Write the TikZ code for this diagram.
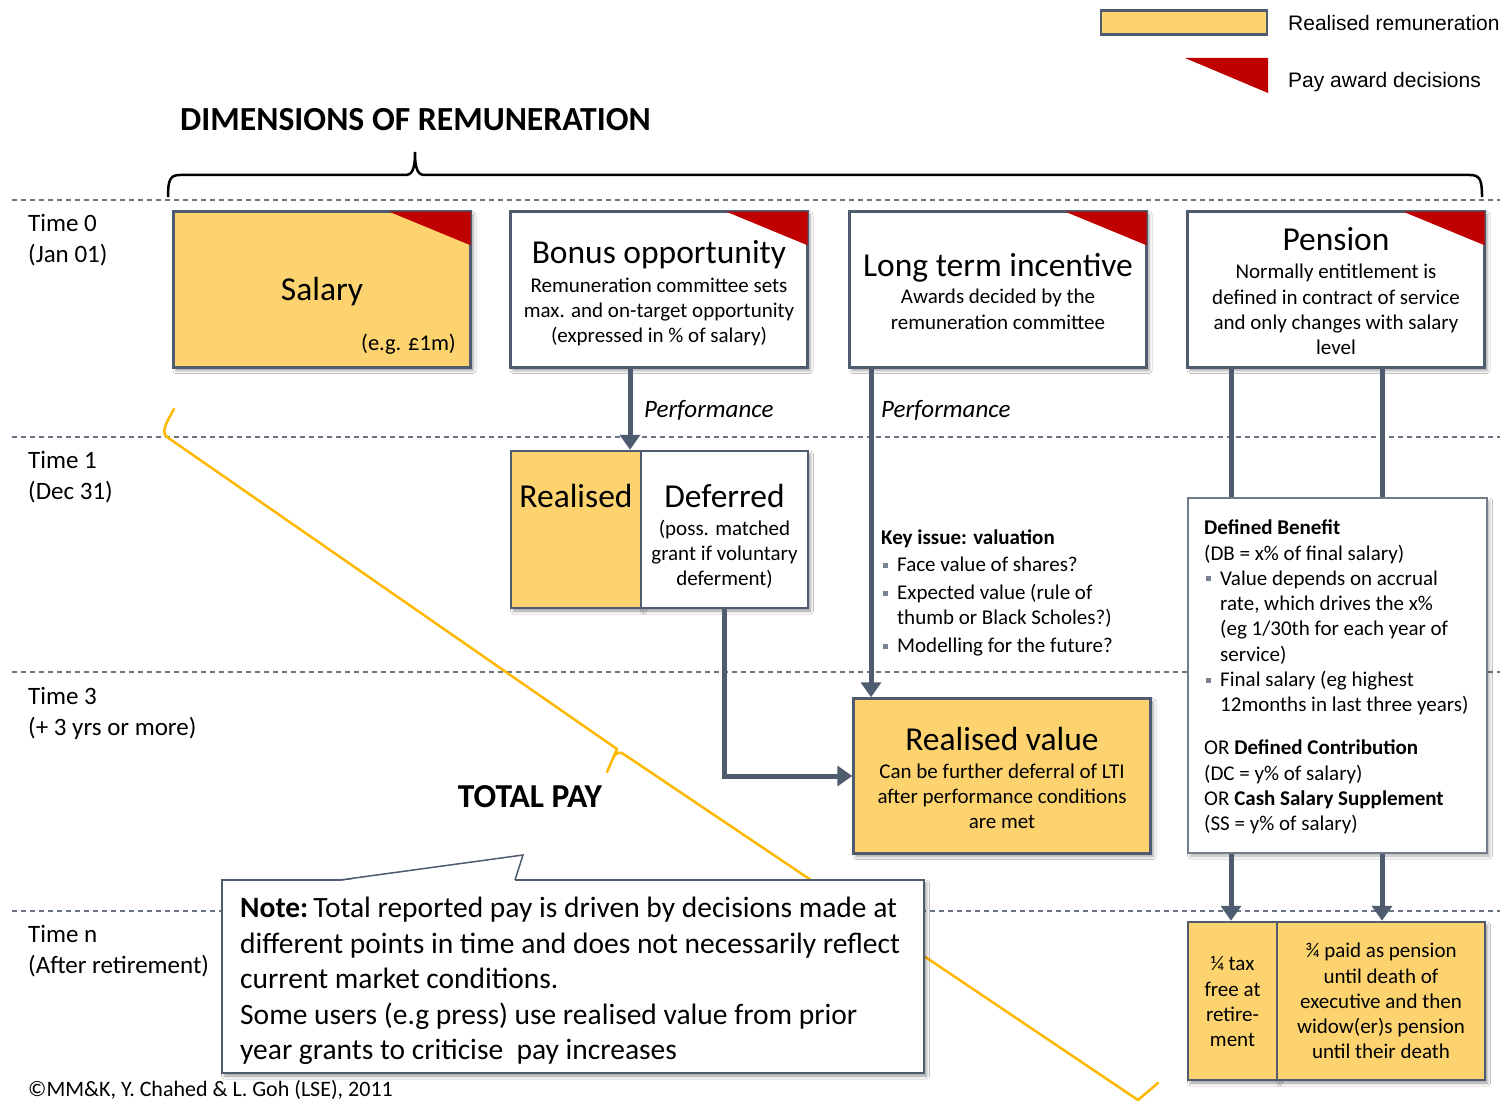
\documentclass[tikz,border=0pt]{standalone}
\usepackage{fontspec}
\setmainfont{Carlito}
\newfontfamily\arialf{Liberation Sans}
\usetikzlibrary{arrows.meta,shadows.blur,calc}
\definecolor{slate}{RGB}{79,91,110}
\definecolor{payyel}{RGB}{252,211,110}
\definecolor{payred}{RGB}{192,0,0}
\definecolor{braceor}{RGB}{255,184,0}
\definecolor{bulc}{RGB}{120,130,145}
\newcommand\bul{\makebox[16pt][l]{\hspace{2pt}\raisebox{4pt}{\color{bulc}\rule{5pt}{5pt}}}}
\newcommand\fs[2]{\fontsize{#1}{#2}\selectfont}
\tikzset{
  rbox/.style={draw=slate,line width=2.5pt,inner sep=0pt,
    blur shadow={shadow xshift=2.5pt,shadow yshift=-3pt,shadow blur radius=3pt,shadow opacity=40}},
  yel/.style={fill=payyel},
  wht/.style={fill=white},
  arr/.style={draw=slate,line width=5pt,-{Triangle[width=20pt,length=15pt]}},
  conn/.style={draw=slate,line width=5pt},
  tline/.style={draw=slate!85,line width=1.1pt,dash pattern=on 5pt off 4pt},
  txt/.style={inner sep=0pt,anchor=base},
  ltxt/.style={inner sep=0pt,anchor=base west,align=left},
  ctxt/.style={inner sep=0pt,anchor=base,align=center},
  bigt/.style={txt,font=\fs{33.5}{38}},
}
\begin{document}
\begin{tikzpicture}[x=1pt,y=-1pt]
\useasboundingbox (0,0) rectangle (1503,1102);
\fill[white] (0,0) rectangle (1503,1102);

% time lines
\coordinate (tl0a) at (12,200); \coordinate (tl0b) at (1500,200);
\coordinate (tl1a) at (12,437); \coordinate (tl1b) at (1500,437);
\coordinate (tl3a) at (12,672); \coordinate (tl3b) at (1500,672);
\coordinate (tlna) at (12,911); \coordinate (tlnb) at (1500,911);
\draw[tline] (tl0a) -- (tl0b);
\draw[tline] (tl1a) -- (tl1b);
\draw[tline] (tl3a) -- (tl3b);
\draw[tline] (tlna) -- (tlnb);

% time labels (anchor = baseline of last line)
\node[ltxt,font=\fs{25}{30.5}] (t0) at (28,262) {Time 0\\(Jan 01)};
\node[ltxt,font=\fs{25}{30.5}] (t1) at (28,499) {Time 1\\(Dec 31)};
\node[ltxt,font=\fs{25}{30.5}] (t3) at (28,735) {Time 3\\(+ 3 yrs or more)};
\node[ltxt,font=\fs{25}{30.5}] (tn) at (28,973) {Time n\\(After retirement)};

% legend
\node[draw=slate,line width=2.5pt,fill=payyel,minimum width=166pt,minimum height=24pt,inner sep=0pt] (legy) at (1184,22.5) {};
\fill[payred] (1185,58) -- (1268,58) -- (1268,93) -- cycle;
\node[ltxt,font=\arialf\fs{21}{24}] (legt1) at (1288,30.5) {Realised remuneration};
\node[ltxt,font=\arialf\fs{21}{24}] (legt2) at (1288,87.5) {Pay award decisions};

% title and brace
\node[ltxt,font=\bfseries\fs{33.7}{38}] (title) at (180,131) {DIMENSIONS OF REMUNERATION};
\draw[black,line width=2.5pt] (168,197) .. controls (168,180) and (170,175) .. (180,175) -- (405,175)
  .. controls (412,175) and (415,170) .. (415,152) .. controls (415,170) and (418,175) .. (425,175)
  -- (1470,175) .. controls (1480,175) and (1482,180) .. (1482,197);

% orange total-pay brace
\draw[braceor,line width=2.5pt,line cap=round,line join=round]
  (174,409) .. controls (168,420) and (160,432) .. (167,437) -- (617,749) -- (607,772)
  (613,758) .. controls (616,752) and (620,751) .. (625,755) -- (1138,1100) -- (1158,1083);

% Time 0 boxes
\node[rbox,yel,minimum width=297pt,minimum height=156pt] (sal) at (322,289.5) {};
\node[rbox,wht,minimum width=297pt,minimum height=156pt] (bon) at (659,289.5) {};
\node[rbox,wht,minimum width=297pt,minimum height=156pt] (lti) at (998,289.5) {};
\node[rbox,wht,minimum width=297pt,minimum height=156pt] (pen) at (1336,289.5) {};
\foreach \b in {sal,bon,lti,pen}{
  \fill[payred] ($(\b.north east)+(-83,1.25)$) -- ($(\b.north east)+(-1.25,1.25)$) -- ($(\b.north east)+(-1.25,35)$) -- cycle;
}
\node[bigt] (salt) at (322,300.5) {Salary};
\node[inner sep=0pt,anchor=base east,font=\fs{22.5}{26}] (salv) at (456,350.5) {(e.g. £1m)};

\node[bigt] (bont) at (659,263.7) {Bonus opportunity};
\node[ctxt,font=\fs{21}{25}] (bonb) at (659,342.7) {Remuneration committee sets\\max. and on-target opportunity\\(expressed in \% of salary)};

\node[bigt] (ltit) at (998,276.7) {Long term incentive};
\node[ctxt,font=\fs{21}{26}] (ltib) at (998,329.7) {Awards decided by the\\remuneration committee};

\node[bigt] (pent) at (1336,250.7) {Pension};
\node[ctxt,font=\fs{21}{25.3}] (penb) at (1336,354.7) {Normally entitlement is\\defined in contract of service\\and only changes with salary\\level};

% Time 1 bonus split
\node[rbox,yel,minimum width=130pt,minimum height=157pt] (rl) at (576,529.5) {};
\node[rbox,wht,minimum width=167pt,minimum height=157pt] (df) at (724.5,529.5) {};
\node[bigt] (rlt) at (576,507.7) {Realised};
\node[bigt] (dft) at (724.5,507.7) {Deferred};
\node[ctxt,font=\fs{21}{25}] (dfb) at (724.5,585.7) {(poss. matched\\grant if voluntary\\deferment)};

% key issue text
\node[ltxt,font=\fs{21}{25}] (key) at (881,652.7) {\textbf{Key issue: valuation}\\[2pt]\bul Face value of shares?\\[3pt]\bul Expected value (rule of\\\hspace*{16pt}thumb or Black Scholes?)\\[3pt]\bul Modelling for the future?};

% realised value
\node[rbox,yel,minimum width=297pt,minimum height=155pt] (rv) at (1002,776) {};
\node[bigt] (rvt) at (1002,750.7) {Realised value};
\node[ctxt,font=\fs{21}{25}] (rvb) at (1002,828.7) {Can be further deferral of LTI\\after performance conditions\\are met};

% pension DB box
\node[draw=slate!80,line width=1.2pt,fill=white,inner sep=0pt,minimum width=299pt,minimum height=355pt,
  blur shadow={shadow xshift=2.5pt,shadow yshift=-3pt,shadow blur radius=3pt,shadow opacity=30}] (db) at (1337.5,675.5) {};
\node[ltxt,font=\fs{21}{25.3}] (dbt) at (1204,830.7) {\textbf{Defined Benefit}\\(DB = x\% of final salary)\\\bul Value depends on accrual\\\hspace*{16pt}rate, which drives the x\%\\\hspace*{16pt}(eg 1/30th for each year of\\\hspace*{16pt}service)\\\bul Final salary (eg highest\\\hspace*{16pt}12months in last three years)\\[17.7pt]OR \textbf{Defined Contribution}\\(DC = y\% of salary)\\OR \textbf{Cash Salary Supplement}\\(SS = y\% of salary)};

% after retirement boxes
\node[rbox,yel,minimum width=89pt,minimum height=158pt] (tax) at (1232.5,1001) {};
\node[rbox,yel,minimum width=208pt,minimum height=158pt] (pp) at (1381,1001) {};
\node[ctxt,font=\fs{21}{25.3}] (taxt) at (1232.5,1046.7) {¼ tax\\free at\\retire-\\ment};
\node[ctxt,font=\fs{21}{25.2}] (ppt) at (1381,1058.7) {¾ paid as pension\\until death of\\executive and then\\widow(er)s pension\\until their death};

% connectors
\coordinate (xb) at (630,0);
\coordinate (xl) at (871,0);
\coordinate (xp1) at (1231,0);
\coordinate (xp2) at (1382,0);
\draw[arr] (bon.south -| xb) -- (rl.north -| xb);
\draw[arr] (lti.south -| xl) -- (rv.north -| xl);
\draw[conn] (pen.south -| xp1) -- (db.north -| xp1);
\draw[conn] (pen.south -| xp2) -- (db.north -| xp2);
\draw[arr] (db.south -| xp1) -- (tax.north -| xp1);
\draw[arr] (db.south -| xp2) -- (pp.north -| xp2);
\draw[arr] (df.south) |- (rv.west);

\node[ltxt,font=\itshape\fs{25}{28}] (perf1) at (644,417) {Performance};
\node[ltxt,font=\itshape\fs{25}{28}] (perf2) at (881,417) {Performance};

\node[txt,font=\bfseries\fs{33.5}{38}] (total) at (530,807.7) {TOTAL PAY};

% note callout
\node[draw=slate,line width=1.5pt,fill=white,inner sep=0pt,minimum width=702pt,minimum height=193pt,
  blur shadow={shadow xshift=2.5pt,shadow yshift=-3pt,shadow blur radius=3pt,shadow opacity=40}] (note) at (573,976.5) {};
\fill[white] (340,881) -- (523,855) -- (515,881) -- cycle;
\draw[slate,line width=1.5pt,line join=miter] (340,880) -- (523,855) -- (515,880);
\node[ltxt,font=\fs{29.5}{35.5}] (notet) at (240,1059.5) {\textbf{Note:}\,Total reported pay is driven by decisions made at\\different points in time and does not necessarily reflect\\current market conditions.\\Some users (e.g press) use realised value from prior\\year grants to criticise\ \ pay increases};

\node[ltxt,font=\fs{22}{25}] (foot) at (28,1096) {©MM\&K, Y. Chahed \& L. Goh (LSE), 2011};
\end{tikzpicture}
\end{document}
